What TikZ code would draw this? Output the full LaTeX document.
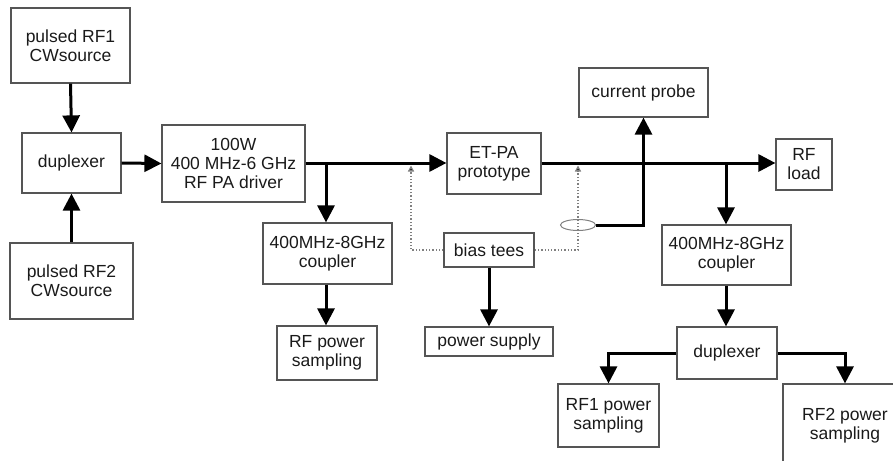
\documentclass[tikz,border=0pt]{standalone}
\usepackage{fontspec}
\setmainfont{Liberation Sans}
\usetikzlibrary{arrows.meta,shapes.geometric}
\definecolor{boxline}{HTML}{555555}
\definecolor{txt}{HTML}{1A1A1A}
\definecolor{dotc}{HTML}{808080}
\tikzset{
  blk/.style={draw=boxline, line width=1.2pt, inner sep=0pt, align=center,
    text=txt, font=\fontsize{17.5}{19}\selectfont},
  arr/.style={line width=3pt, draw=black, -{Triangle[length=17pt,width=17pt]}},
  dotl/.style={draw=dotc, line width=1.3pt, dotted},
  dotarr/.style={dotl, -{Triangle[length=6pt,width=6pt,fill=black]}},
}
\begin{document}
\begin{tikzpicture}[x=1pt,y=-1pt]
\useasboundingbox (0,0) rectangle (893,460);
\clip (0,0) rectangle (893,460);
% boxes
\node[blk, minimum width=119pt, minimum height=75pt] (src1) at (70.5,45.5) {pulsed RF1\\CWsource};
\node[blk, minimum width=99pt, minimum height=60pt] (dup1) at (71.5,163) {duplexer};
\node[blk, minimum width=123pt, minimum height=76pt] (src2) at (71.5,281) {pulsed RF2\\CWsource};
\node[blk, minimum width=143pt, minimum height=77pt] (drv) at (233.5,163.5) {100W\\400 MHz-6 GHz\\RF PA driver};
\node[blk, minimum width=129pt, minimum height=61pt] (cpl1) at (327.5,253.5) {400MHz-8GHz\\coupler};
\node[blk, minimum width=100pt, minimum height=54pt] (rfps) at (327,353) {RF power\\sampling};
\node[blk, minimum width=94pt, minimum height=61pt] (etpa) at (494,163.5) {ET-PA\\prototype};
\node[blk, minimum width=90pt, minimum height=34pt] (bias) at (489,250) {bias tees};
\node[blk, minimum width=128pt, minimum height=29pt] (psup) at (489,341.5) {power supply};
\node[blk, minimum width=129pt, minimum height=49pt] (cprobe) at (643.5,92.5) {current probe};
\node[blk, minimum width=56pt, minimum height=51pt] (load) at (804,164.5) {RF\\load};
\node[blk, minimum width=129pt, minimum height=60pt] (cpl2) at (726.5,255) {400MHz-8GHz\\coupler};
\node[blk, minimum width=100pt, minimum height=52pt] (dup2) at (727,353) {duplexer};
\node[blk, minimum width=101pt, minimum height=63pt] (rf1ps) at (608.5,415.5) {RF1 power\\sampling};
\node[blk, minimum width=124pt, minimum height=84pt] (rf2ps) at (845,426) {RF2 power\\sampling};
\node[draw=dotc, line width=1pt, ellipse, minimum width=35pt, minimum height=11pt, inner sep=0pt] (ell) at (578,225) {};
% junction coordinates
\coordinate (j1) at (326,163);
\coordinate (t1) at (411,165.5);
\coordinate (t2) at (578,165.5);
\coordinate (j2) at (726,163);
% connectors
\draw[arr] (src1.south) -- (dup1.north);
\draw[arr] (src2.north) -- (dup1.south);
\draw[arr] (dup1.east) -- (drv.west);
\draw[arr] (drv.east |- j1) -- (etpa.west |- j1);
\draw[arr] (j1) -- (j1 |- cpl1.north);
\draw[arr] (cpl1.south -| j1) -- (j1 |- rfps.north);
\draw[arr] (etpa.east |- j2) -- (load.west |- j2);
\draw[arr] (j2) -- (j2 |- cpl2.north);
\draw[arr] (cpl2.south -| j2) -- (j2 |- dup2.north);
\draw[arr] (bias.south) -- (psup.north);
\draw[arr] (ell.east) -| (cprobe.south);
\draw[arr] (dup2.west) -| (rf1ps.north);
\draw[arr] (dup2.east) -| (rf2ps.north);
% dotted bias lines
\draw[dotarr] (bias.west) -| (t1);
\draw[dotarr] (bias.east) -| (t2);
\end{tikzpicture}
\end{document}
